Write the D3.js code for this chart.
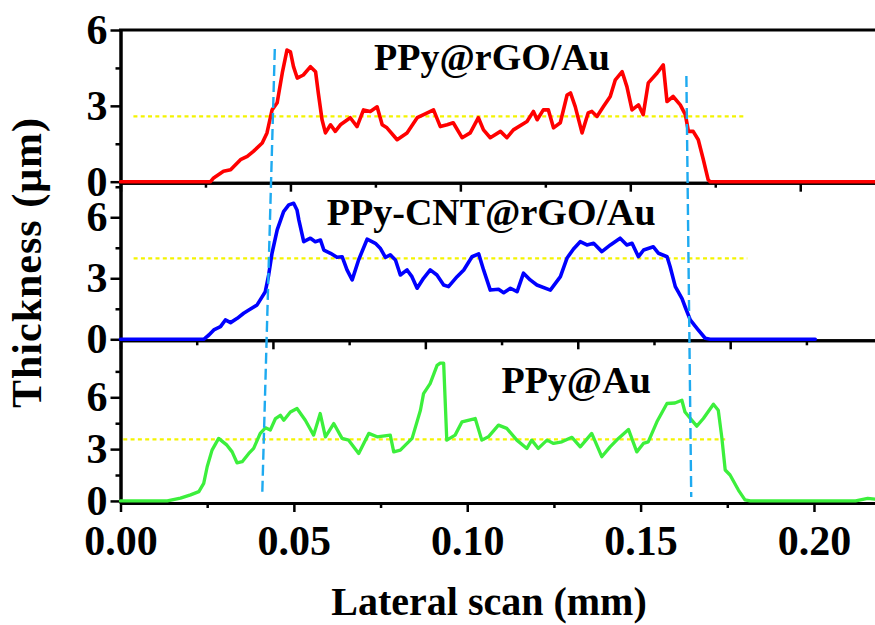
<!DOCTYPE html>
<html><head><meta charset="utf-8">
<script src="https://cdn.jsdelivr.net/npm/d3@7"></script>
<style>html,body{margin:0;padding:0;background:#fff;} svg{display:block;}</style>
</head><body>
<svg id="chart" width="875" height="625"></svg>
<script>
// ---------------- DATA ----------------
const panelNames = ["PPy@rGO/Au", "PPy-CNT@rGO/Au", "PPy@Au"];

// [lateral scan (mm), thickness (µm)]
const redScan = [[0,0],[0.0265,0],[0.0274,0.15],[0.0303,0.41],[0.0324,0.47],[0.0353,0.87],[0.0373,1.0],[0.0391,1.2],[0.0417,1.53],[0.0431,1.93],[0.0446,2.84],[0.0461,3.12],[0.0476,4.3],[0.049,5.21],[0.05,5.14],[0.0509,4.55],[0.052,4.1],[0.0538,4.22],[0.0559,4.55],[0.0574,4.35],[0.0582,3.51],[0.0593,2.45],[0.0603,1.93],[0.0618,2.25],[0.0632,1.99],[0.0647,2.25],[0.0676,2.53],[0.0696,2.18],[0.0715,2.84],[0.0735,2.78],[0.0755,2.96],[0.077,2.25],[0.0784,2.13],[0.0814,1.66],[0.0843,1.93],[0.0873,2.53],[0.0892,2.65],[0.0921,2.84],[0.0941,2.18],[0.0961,2.25],[0.0979,2.33],[0.1005,1.74],[0.1029,1.93],[0.1053,2.53],[0.1068,2.05],[0.1088,1.74],[0.1118,1.99],[0.1137,1.74],[0.1156,2.05],[0.1196,2.38],[0.1215,2.78],[0.1226,2.45],[0.1244,2.84],[0.1259,2.84],[0.1274,2.13],[0.1294,2.33],[0.1314,3.43],[0.1324,3.51],[0.1338,2.97],[0.1358,1.93],[0.1376,2.72],[0.1387,2.78],[0.1402,2.58],[0.1421,2.97],[0.1441,3.37],[0.1456,4.03],[0.1476,4.35],[0.149,3.76],[0.1505,2.84],[0.1524,3.04],[0.1538,2.65],[0.1553,3.91],[0.1579,4.3],[0.1597,4.62],[0.1608,3.17],[0.1626,3.37],[0.1647,3.04],[0.1662,2.65],[0.1671,1.99],[0.1685,1.99],[0.17,1.66],[0.1715,0.87],[0.1729,0.08],[0.1735,0],[0.222,0]];

const blueScan = [[0,0],[0.0273,0],[0.029,0.21],[0.0306,0.46],[0.0328,0.62],[0.0344,0.95],[0.0361,0.82],[0.0383,1.03],[0.0404,1.28],[0.0421,1.44],[0.0448,1.69],[0.0465,2.1],[0.0475,2.34],[0.0486,3.16],[0.0497,4.23],[0.0514,5.38],[0.0535,6.28],[0.0552,6.61],[0.0568,6.69],[0.0579,6.36],[0.0585,5.87],[0.0601,4.8],[0.0623,4.97],[0.0639,4.8],[0.0656,4.88],[0.0667,4.39],[0.0689,4.23],[0.071,4.03],[0.0727,4.06],[0.0743,3.41],[0.076,2.92],[0.0781,3.9],[0.0809,4.92],[0.0836,4.72],[0.0852,4.48],[0.0869,4.03],[0.0885,4.15],[0.0902,3.9],[0.0918,3.16],[0.094,3.41],[0.0956,3.08],[0.0973,2.51],[0.0994,3.0],[0.1016,3.41],[0.1038,3.16],[0.106,2.67],[0.1076,2.59],[0.1104,3.08],[0.1126,3.41],[0.1153,4.06],[0.1175,4.2],[0.1191,3.41],[0.1213,2.42],[0.124,2.46],[0.1257,2.29],[0.1279,2.51],[0.1301,2.34],[0.1322,3.25],[0.1344,2.92],[0.1366,2.67],[0.141,2.42],[0.1443,3.08],[0.1465,4.0],[0.1486,4.44],[0.1508,4.8],[0.153,4.64],[0.1552,4.72],[0.1579,4.31],[0.1607,4.64],[0.1639,4.97],[0.1661,4.64],[0.1678,4.72],[0.1699,4.06],[0.1716,4.39],[0.1748,4.55],[0.1765,4.23],[0.1793,4.06],[0.1803,3.57],[0.182,2.59],[0.1842,2.0],[0.1852,1.6],[0.1869,0.95],[0.1891,0.54],[0.1918,0.05],[0.1934,0],[0.2279,0]];

const greenScan = [[0,0],[0.0135,0],[0.0173,0.16],[0.0202,0.35],[0.0226,0.54],[0.024,1.02],[0.025,1.98],[0.0264,2.94],[0.0283,3.62],[0.0307,3.23],[0.0322,2.84],[0.0336,2.21],[0.0351,2.27],[0.037,2.75],[0.0384,3.04],[0.0403,3.91],[0.0418,4.23],[0.0432,4.1],[0.0447,4.77],[0.0461,4.96],[0.0471,4.67],[0.049,5.15],[0.0509,5.35],[0.0533,4.67],[0.0557,3.81],[0.0576,5.06],[0.0591,3.71],[0.0615,4.48],[0.0639,3.62],[0.0658,3.52],[0.0687,2.75],[0.0716,3.91],[0.074,3.71],[0.0778,3.81],[0.0788,2.84],[0.0807,2.94],[0.0841,3.62],[0.0865,5.25],[0.0874,6.21],[0.0893,6.79],[0.0913,7.85],[0.0922,7.98],[0.0932,7.98],[0.0941,3.52],[0.0965,3.81],[0.0985,4.58],[0.1023,4.77],[0.1042,3.52],[0.1061,3.71],[0.109,4.39],[0.1114,4.2],[0.1143,3.52],[0.1172,3.04],[0.1186,3.52],[0.1205,3.04],[0.123,3.52],[0.1249,3.33],[0.1273,3.42],[0.1302,3.68],[0.1326,3.13],[0.1359,3.91],[0.1388,2.56],[0.1412,3.13],[0.1436,3.62],[0.1465,4.14],[0.1489,2.84],[0.1508,3.33],[0.1522,3.42],[0.1547,4.58],[0.1576,5.64],[0.1599,5.67],[0.1619,5.83],[0.1628,5.15],[0.1662,4.33],[0.1681,4.77],[0.171,5.6],[0.1724,5.25],[0.1734,3.71],[0.1744,1.79],[0.1758,1.5],[0.1782,0.63],[0.1801,0.06],[0.1816,0],[0.212,0],[0.2155,0.15],[0.2176,0.1]];

const seriesColors = ["#ff0000", "#0000ff", "#3cef3c"];
const xDomainMax = [0.222, 0.2475, 0.2176];
const yDomains = [[-0.04, 6], [-0.05, 7.7], [-0.12, 9.3]];
const yMajorTicks = [0, 3, 6];
const yMinorTicks = [[1.5, 4.5], [1.5, 4.5, 7.5], [1.5, 4.5, 7.5]];
const xMajorTicks = [0, 0.05, 0.10, 0.15, 0.20];
const xMinorTicks = [0.025, 0.075, 0.125, 0.175, 0.225];
const avgThickness = [2.58, 3.98, 3.56];
const avgSpan = [[0.0038, 0.1838], [0.0043, 0.2056], [0.0008, 0.1744]];
const labelPos = [[0.1093, 4.42], [0.1216, 5.62], [0.1314, 6.23]];
// [panel index, x, y] endpoints of the cyan boundary guides
const guideLeft = [[0, 0.0454, 5.25], [2, 0.0409, 0.52]];
const guideRight = [[0, 0.1665, 4.18], [2, 0.1646, 0.23]];
const xTitle = "Lateral scan (mm)";
const yTitle = "Thickness (\u03bcm)";

// ---------------- LAYOUT ----------------
const W = 875, H = 625;
const left = 120.5, right = 875;
const bands = [[30, 182.7], [182.7, 340.3], [340.3, 503]];
const FONT = '"Liberation Serif","Times New Roman",Times,serif';
const scans = [redScan, blueScan, greenScan];

const svg = d3.select("#chart");
svg.append("rect").attr("width", W).attr("height", H).attr("fill", "#fff");

const xs = xDomainMax.map(m => d3.scaleLinear().domain([0, m]).range([left, right]));
const ys = yDomains.map((d, i) => d3.scaleLinear().domain(d).range([bands[i][1], bands[i][0]]));

// top frame
svg.append("line").attr("x1", left - 1.5).attr("x2", right).attr("y1", bands[0][0]).attr("y2", bands[0][0])
  .attr("stroke", "#000").attr("stroke-width", 3);

function styleAxis(g) {
  g.select(".domain").attr("stroke", "#000").attr("stroke-width", 3);
  g.selectAll(".tick line").attr("stroke", "#000").attr("stroke-width", 2.5);
  g.selectAll("text").attr("font-family", FONT).attr("font-weight", "bold").attr("font-size", 42).attr("fill", "#000");
}

panelNames.forEach((name, i) => {
  const x = xs[i], y = ys[i];
  const gy = svg.append("g").attr("transform", `translate(${left},0)`)
    .call(d3.axisLeft(y).tickValues(yMajorTicks).tickSize(10).tickSizeOuter(0).tickPadding(3).tickFormat(d3.format("d")));
  styleAxis(gy);
  const gym = svg.append("g").attr("transform", `translate(${left},0)`)
    .call(d3.axisLeft(y).tickValues(yMinorTicks[i]).tickSize(5).tickSizeOuter(0).tickFormat(""));
  styleAxis(gym);
  const gx = svg.append("g").attr("transform", `translate(0,${bands[i][1]})`)
    .call(d3.axisBottom(x).tickValues(xMajorTicks.filter(v => v <= xDomainMax[i])).tickSize(9).tickSizeOuter(0)
      .tickPadding(13).tickFormat(i === 2 ? d3.format(".2f") : ""));
  styleAxis(gx);
  const gxm = svg.append("g").attr("transform", `translate(0,${bands[i][1]})`)
    .call(d3.axisBottom(x).tickValues(xMinorTicks.filter(v => v <= xDomainMax[i])).tickSize(5).tickSizeOuter(0).tickFormat(""));
  styleAxis(gxm);
});

// average thickness (yellow dotted)
panelNames.forEach((name, i) => {
  svg.append("line")
    .attr("x1", xs[i](avgSpan[i][0])).attr("x2", xs[i](avgSpan[i][1]))
    .attr("y1", ys[i](avgThickness[i])).attr("y2", ys[i](avgThickness[i]))
    .attr("stroke", "#f4f400").attr("stroke-width", 2.2).attr("stroke-dasharray", "4,3.3");
});

// profiles
panelNames.forEach((name, i) => {
  const line = d3.line().x(d => xs[i](d[0])).y(d => ys[i](d[1]));
  svg.append("path").datum(scans[i]).attr("d", line)
    .attr("fill", "none").attr("stroke", seriesColors[i]).attr("stroke-width", i === 2 ? 3.3 : 3.6)
    .attr("stroke-linejoin", "round").attr("stroke-linecap", "round");
});

// cyan boundary guides
[guideLeft, guideRight].forEach(g => {
  svg.append("line")
    .attr("x1", xs[g[0][0]](g[0][1])).attr("y1", ys[g[0][0]](g[0][2]))
    .attr("x2", xs[g[1][0]](g[1][1])).attr("y2", ys[g[1][0]](g[1][2]))
    .attr("stroke", "#1eaaf0").attr("stroke-width", 2.4).attr("stroke-dasharray", "11,5");
});

// panel labels
panelNames.forEach((name, i) => {
  svg.append("text").attr("x", xs[i](labelPos[i][0])).attr("y", ys[i](labelPos[i][1]))
    .attr("text-anchor", "middle").attr("font-family", FONT).attr("font-weight", "bold")
    .attr("font-size", 38).attr("fill", "#000").text(name);
});

// axis titles
svg.append("text").attr("x", 489).attr("y", 615).attr("text-anchor", "middle")
  .attr("font-family", FONT).attr("font-weight", "bold").attr("font-size", 40).attr("fill", "#000").text(xTitle);
svg.append("text").attr("transform", "translate(41,263) rotate(-90)").attr("text-anchor", "middle")
  .attr("font-family", FONT).attr("font-weight", "bold").attr("font-size", 42)
  .attr("textLength", 290).attr("lengthAdjust", "spacing").attr("fill", "#000").text(yTitle);
</script>
</body></html>
